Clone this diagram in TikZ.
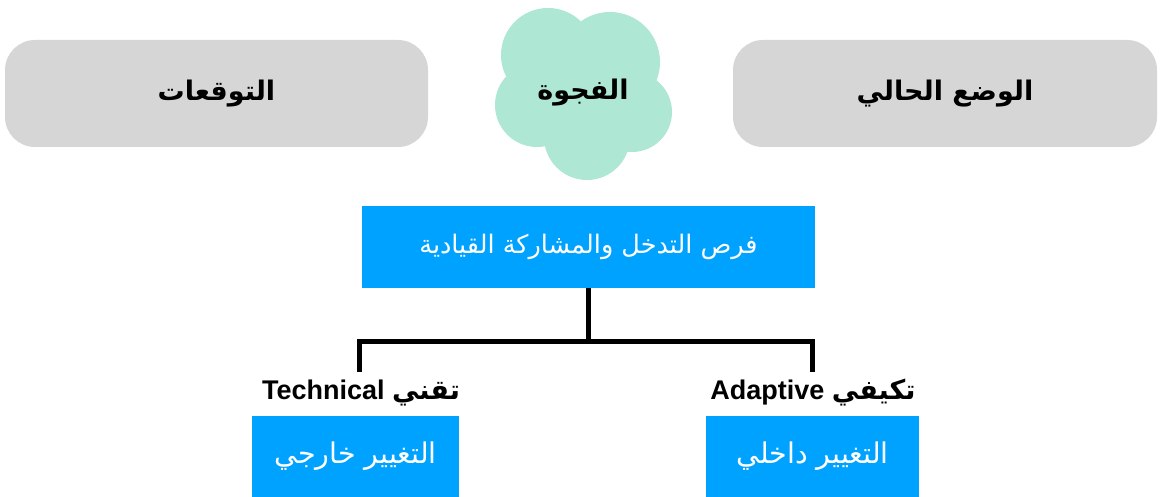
\documentclass[tikz,border=0pt]{standalone}
\usepackage{fontspec}
\setmainfont{Liberation Sans}
\newfontfamily\arabicfont[Script=Arabic]{DejaVu Sans}
\TeXXeTstate=1
\definecolor{grayfill}{HTML}{D6D6D6}
\definecolor{cloudfill}{HTML}{AEE7D3}
\definecolor{bluefill}{HTML}{00A2FF}
\begin{document}
\begin{tikzpicture}[x=1pt,y=-1pt,
  graybox/.style={fill=grayfill,rounded corners=30pt,minimum width=#1,minimum height=107pt,inner sep=0pt,font=\arabicfont\bfseries\fontsize{27}{30}\selectfont},
  bluebox/.style={fill=bluefill,text=white,inner sep=0pt},
  lbl/.style={inner sep=0pt,font=\bfseries\fontsize{27}{30}\selectfont},
  conn/.style={line width=5pt}]
\useasboundingbox (0,0) rectangle (1163,497);
% gray boxes
\node[graybox=423pt] (exp) at (216.5,93.5) {\beginR التوقعات\endR};
\node[graybox=424pt] (cur) at (945,93.5) {\beginR الوضع الحالي\endR};
% cloud
\fill[cloudfill] (548,55) circle (47) (610,62) circle (50) (537,105) circle (42)
  (632,112) circle (40) (587,137) circle (43) (585,95) circle (55);
\node[inner sep=0pt,font=\arabicfont\bfseries\fontsize{27}{30}\selectfont] (gap) at (583,93) {\beginR الفجوة\endR};
% blue boxes
\node[bluebox,minimum width=453pt,minimum height=82pt,font=\arabicfont\fontsize{25.5}{30}\selectfont] (top) at (588.5,247) {\beginR فرص التدخل والمشاركة القيادية\endR};
\node[bluebox,minimum width=207pt,minimum height=81pt,font=\arabicfont\fontsize{28.5}{32}\selectfont] (ext) at (355.5,456.5) {\beginR التغيير خارجي\endR};
\node[bluebox,minimum width=213pt,minimum height=81pt,font=\arabicfont\fontsize{28.5}{32}\selectfont] (int) at (812.5,456.5) {\beginR التغيير داخلي\endR};
% labels
\node[lbl] (tech) at (361,393) {\beginR{\arabicfont تقني} \beginL Technical\endL\endR};
\node[lbl] (adap) at (813,393) {\beginR{\arabicfont تكيفي} \beginL Adaptive\endL\endR};
% connectors
\coordinate (j) at (588,342);
\coordinate (lj) at (359,342);
\coordinate (rj) at (812,342);
\coordinate (le) at (359,372);
\coordinate (re) at (812,372);
\draw[conn] (top.south -| j) -- (j);
\draw[conn] (le) -- (lj) -- (rj) -- (re);
\end{tikzpicture}
\end{document}
